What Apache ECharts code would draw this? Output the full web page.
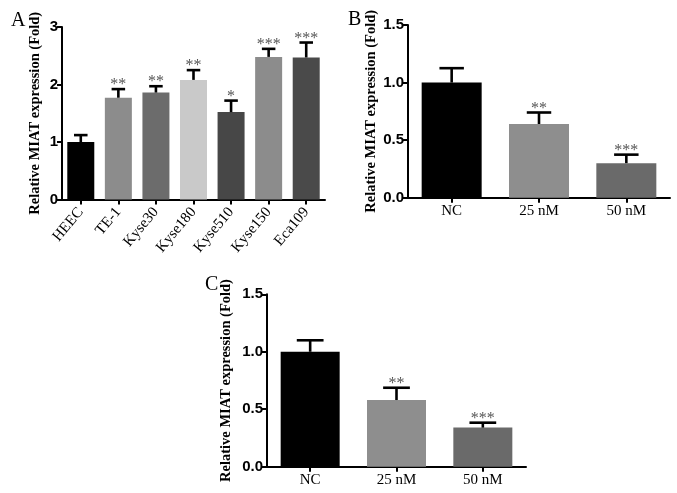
<!DOCTYPE html>
<html><head><meta charset="utf-8">
<script src="https://cdn.jsdelivr.net/npm/echarts@6/dist/echarts.min.js"></script>
<style>html,body{margin:0;padding:0;background:#fff}#c{width:677px;height:493px}</style>
</head><body><div id="c"></div>
<script>
var catsA = ['HEEC','TE-1','Kyse30','Kyse180','Kyse510','Kyse150','Eca109'];
var meanA = [1.0, 1.77, 1.86, 2.08, 1.52, 2.48, 2.47];
var errA  = [0.12, 0.15, 0.11, 0.17, 0.20, 0.14, 0.26];
var sigA  = ['', '**', '**', '**', '*', '***', '***'];
var colA  = ['#000000','#8c8c8c','#6c6c6c','#c9c9c9','#474747','#8c8c8c','#4a4a4a'];

var catsB = ['NC','25 nM','50 nM'];
var meanB = [1.0, 0.64, 0.30];
var errB  = [0.125, 0.10, 0.074];
var sigB  = ['', '**', '***'];

var catsC = ['NC','25 nM','50 nM'];
var meanC = [1.0, 0.58, 0.34];
var errC  = [0.10, 0.107, 0.043];
var sigC  = ['', '**', '***'];
var colBC = ['#000000','#8e8e8e','#6a6a6a'];

var ticksA = [0, 1, 2, 3];
var ticksBC = [0, 0.5, 1.0, 1.5];

var yTitle = 'Relative MIAT expression (Fold)';
var serif = '"Liberation Serif","Times New Roman",serif';
var sans = '"Liberation Sans",Arial,sans-serif';

function xAx(idx, cats, rot, margin){
  return {type:'category', gridIndex:idx, data:cats,
    axisLine:{lineStyle:{color:'#000', width:2}},
    axisTick:{show:true, alignWithLabel:true, length:5, lineStyle:{color:'#000', width:2}},
    axisLabel:{color:'#000', fontFamily:serif, fontSize:15, rotate:rot, margin:margin, interval:0}};
}
function yAx(idx, max, interval, gap, digits){
  return {type:'value', gridIndex:idx, min:0, max:max, interval:interval,
    name:yTitle, nameLocation:'middle', nameGap:gap,
    nameTextStyle:{color:'#000', fontFamily:serif, fontWeight:'bold', fontSize:14.5},
    splitLine:{show:false},
    axisLine:{show:true, lineStyle:{color:'#000', width:2}},
    axisTick:{show:true, length:5, lineStyle:{color:'#000', width:2}},
    axisLabel:{color:'#000', fontFamily:sans, fontWeight:'bold', fontSize:15, margin:4,
      formatter:function(v){return v.toFixed(digits);}}};
}
function barSeries(idx, means, cols, bw){
  return {type:'bar', xAxisIndex:idx, yAxisIndex:idx, barWidth:bw,
    data: means.map(function(v,i){return {value:v, itemStyle:{color:cols[i]}};}),
    animation:false};
}
function errSeries(idx, means, errs, sigs, capFrac){
  return {type:'custom', xAxisIndex:idx, yAxisIndex:idx, animation:false, z:5,
    data: means.map(function(v,i){return [i, v, v+errs[i]];}),
    renderItem:function(params, api){
      var i = api.value(0);
      var p0 = api.coord([i, api.value(1)]);
      var p1 = api.coord([i, api.value(2)]);
      var bw = api.size([1,0])[0];
      var hw = bw*capFrac/2;
      var ch = [
        {type:'line', shape:{x1:p0[0], y1:p0[1], x2:p1[0], y2:p1[1]}, style:{stroke:'#000', lineWidth:2.6}},
        {type:'line', shape:{x1:p1[0]-hw, y1:p1[1], x2:p1[0]+hw, y2:p1[1]}, style:{stroke:'#000', lineWidth:2.6}}
      ];
      var s = sigs[params.dataIndex];
      if (s) ch.push({type:'text', x:p1[0], y:p1[1]+4,
        style:{text:s, fill:'#555', font:'16px '+serif, textAlign:'center', textVerticalAlign:'bottom'}});
      return {type:'group', children:ch};
    }};
}

var chart = echarts.init(document.getElementById('c'), null, {renderer:'canvas'});
chart.setOption({
  backgroundColor:'#fff',
  animation:false,
  title:[
    {text:'A', left:6, top:6, textStyle:{fontFamily:serif, fontWeight:'normal', fontSize:20, color:'#000'}},
    {text:'B', left:343, top:5, textStyle:{fontFamily:serif, fontWeight:'normal', fontSize:20, color:'#000'}},
    {text:'C', left:200, top:270, textStyle:{fontFamily:serif, fontWeight:'normal', fontSize:20, color:'#000'}}
  ],
  grid:[
    {left:62, top:27, width:263, height:172.5},
    {left:408, top:25, width:262, height:172.7},
    {left:267, top:294.3, width:259, height:172.4}
  ],
  xAxis:[xAx(0, catsA, 50, 10), xAx(1, catsB, 0, 6), xAx(2, catsC, 0, 6)],
  yAxis:[yAx(0, 3, 1, 19, 0), yAx(1, 1.5, 0.5, 28, 1), yAx(2, 1.5, 0.5, 33, 1)],
  series:[
    barSeries(0, meanA, colA, 27),
    errSeries(0, meanA, errA, sigA, 0.36),
    barSeries(1, meanB, colBC, 60),
    errSeries(1, meanB, errB, sigB, 0.28),
    barSeries(2, meanC, colBC, 59),
    errSeries(2, meanC, errC, sigC, 0.31)
  ]
});
</script>
</body></html>
